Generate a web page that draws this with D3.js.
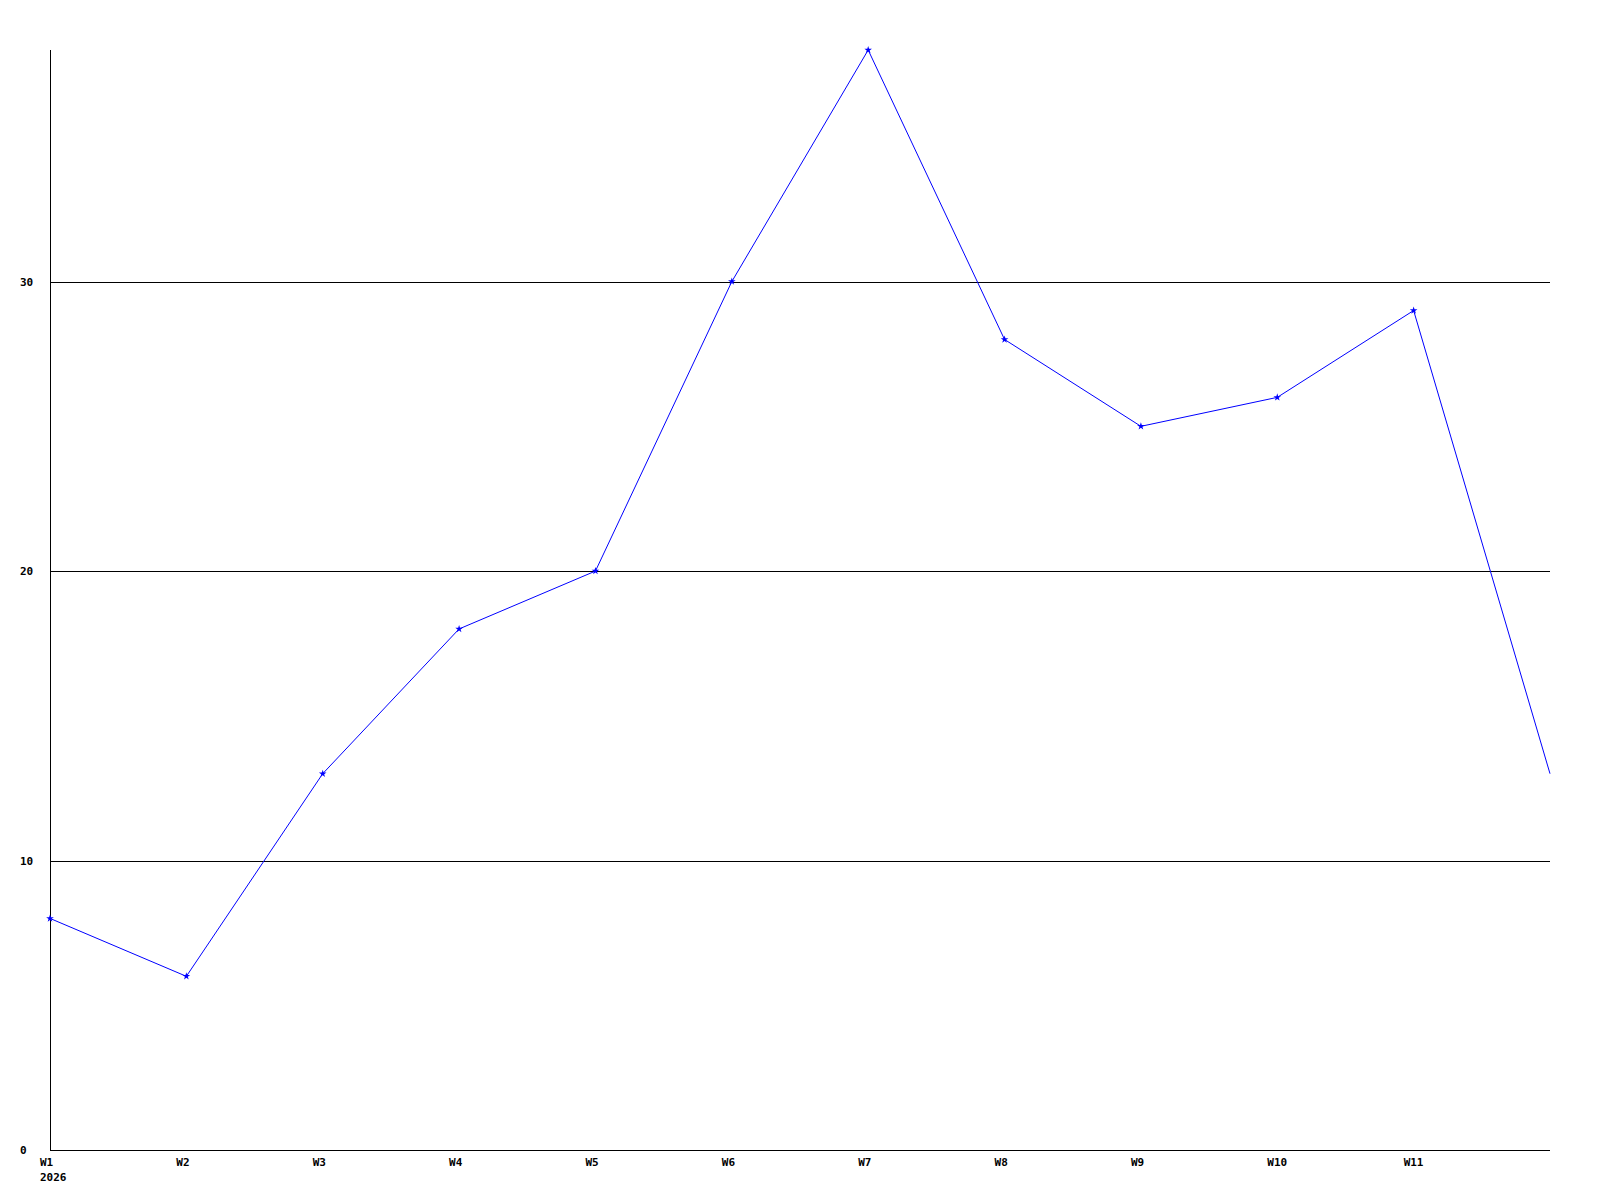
<!DOCTYPE html>
<html>
<head>
<meta charset="utf-8">
<script src="https://cdn.jsdelivr.net/npm/d3@7"></script>
<style>
    body { margin: 0; background: #fff; }
    text { font-family: "DejaVu Sans Mono", monospace; font-weight: bold; font-size: 11px; }
</style>
</head>
<body>
<div id="chart"></div>
<script>
const weeks = ["W1", "W2", "W3", "W4", "W5", "W6", "W7", "W8", "W9", "W10", "W11", "W12"];
const values = [8, 6, 13, 18, 20, 30, 38, 28, 25, 26, 29, 13];
const yTicks = [0, 10, 20, 30];
const yearLabel = "2026";

const width = 1600;
const height = 1200;
const margin = { top: 50, right: 50, bottom: 50, left: 50 };

const svg = d3.select("#chart").append("svg")
    .attr("width", width)
    .attr("height", height);

const xScale = d3.scalePoint()
    .domain(weeks)
    .range([margin.left, width - margin.right]);

const yScale = d3.scaleLinear()
    .domain([0, d3.max(values)])
    .range([height - margin.bottom, margin.top]);

// horizontal grid lines (zero line is the axis)
svg.selectAll(".grid")
    .data(yTicks.filter(d => d > 0))
    .enter().append("line")
    .attr("x1", margin.left)
    .attr("x2", width - margin.right)
    .attr("y1", d => Math.round(yScale(d)) + 0.5)
    .attr("y2", d => Math.round(yScale(d)) + 0.5)
    .attr("stroke", "black")
    .attr("stroke-width", 1);

// y labels, left aligned
svg.selectAll(".ylabel")
    .data(yTicks)
    .enter().append("text")
    .attr("x", 20)
    .attr("y", d => yScale(d) + 4)
    .text(d => d);

// axes
svg.append("line")
    .attr("x1", margin.left + 0.5)
    .attr("x2", margin.left + 0.5)
    .attr("y1", margin.top)
    .attr("y2", height - margin.bottom)
    .attr("stroke", "black");

svg.append("line")
    .attr("x1", margin.left)
    .attr("x2", width - margin.right)
    .attr("y1", height - margin.bottom + 0.5)
    .attr("y2", height - margin.bottom + 0.5)
    .attr("stroke", "black");

// x labels (last week has no label)
svg.selectAll(".xlabel")
    .data(weeks.slice(0, -1))
    .enter().append("text")
    .attr("x", d => xScale(d) - 10)
    .attr("y", height - margin.bottom + 16)
    .text(d => d);

svg.append("text")
    .attr("x", xScale(weeks[0]) - 10)
    .attr("y", height - margin.bottom + 31)
    .text(yearLabel);

const series = weeks.map((w, i) => ({ week: w, value: values[i] }));

const line = d3.line()
    .x(d => xScale(d.week))
    .y(d => yScale(d.value));

svg.append("path")
    .datum(series)
    .attr("d", line)
    .attr("fill", "none")
    .attr("stroke", "blue")
    .attr("stroke-width", 1);

svg.selectAll(".pt")
    .data(series.slice(0, -1))
    .enter().append("path")
    .attr("d", d3.symbol().type(d3.symbolStar).size(18))
    .attr("transform", d => `translate(${xScale(d.week)},${yScale(d.value)})`)
    .attr("fill", "blue");
</script>
</body>
</html>
